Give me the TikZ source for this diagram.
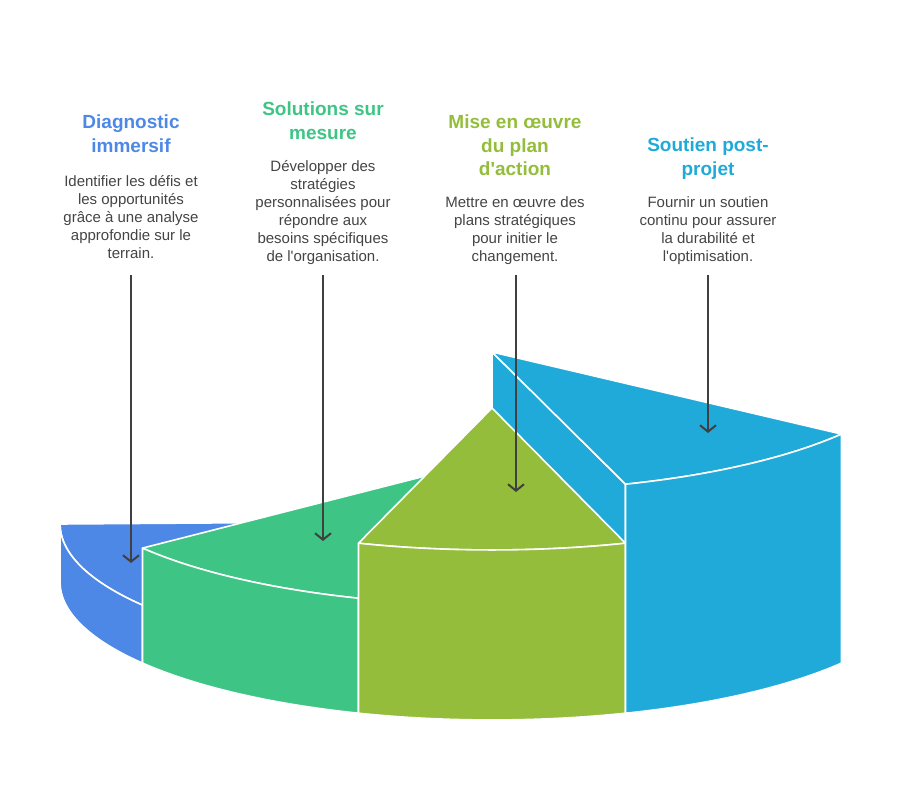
\documentclass[tikz,border=0pt]{standalone}
\usepackage{fontspec}
\setmainfont{Liberation Sans}
\usetikzlibrary{arrows.meta}
\definecolor{cDiag}{HTML}{4E88E6}
\definecolor{cSol}{HTML}{3EC585}
\definecolor{cMise}{HTML}{93BD3A}
\definecolor{cSout}{HTML}{20AAD9}
\definecolor{cText}{HTML}{444444}
\definecolor{cArrow}{HTML}{404040}
\begin{document}
\begin{tikzpicture}[x=1pt,y=-1pt,
  face/.style={draw=white,line width=1.6pt,line join=round},
  ttl/.style={font=\fontsize{19}{23.5}\selectfont\bfseries,align=center,inner sep=0pt,anchor=north},
  bodytext/.style={font=\fontsize{15}{18}\selectfont,text=cText,align=center,inner sep=0pt,anchor=north},
  pointer/.style={draw=cArrow,line width=2pt,-{Straight Barb[length=6.5pt,width=16pt]}},
  ell/.style={x radius=432,y radius=138}]
\useasboundingbox (0,0) rectangle (900,805);

% Diagnostic immersif (lowest sector, 144..180 deg)
\path[face,fill=cDiag] (492,521) -- (60,524) arc[start angle=180,end angle=144,ell] -- cycle;
\path[face,fill=cDiag] (60,524) arc[start angle=180,end angle=144,ell] -- (142.5,663.1) arc[start angle=144,end angle=180,ell] -- cycle;

% Solutions sur mesure (108..144 deg)
\path[face,fill=cSol] (492,459) -- (142.5,548.1) arc[start angle=144,end angle=108,ell] -- cycle;
\path[face,fill=cSol] (142.5,548.1) arc[start angle=144,end angle=108,ell] -- (358.5,713.2) arc[start angle=108,end angle=144,ell] -- cycle;

% Soutien post-projet side face
\path[face,fill=cSout] (492,352) -- (625.5,484.2) -- (625.5,713.2) -- (492,582) -- cycle;

% Mise en oeuvre (72..108 deg)
\path[face,fill=cMise] (492,408) -- (358.5,543.2) arc[start angle=108,end angle=72,ell] -- cycle;
\path[face,fill=cMise] (358.5,543.2) arc[start angle=108,end angle=72,ell] -- (625.5,713.2) arc[start angle=72,end angle=108,ell] -- cycle;

% Soutien post-projet (36..72 deg)
\path[face,fill=cSout] (492,352) -- (625.5,484.2) arc[start angle=72,end angle=36,ell] -- cycle;
\path[face,fill=cSout] (625.5,484.2) arc[start angle=72,end angle=36,ell] -- (841.5,663.1) arc[start angle=36,end angle=72,ell] -- cycle;

% Texts
\node[ttl,text=cDiag] (t1) at (131,115) {Diagnostic\\immersif};
\node[bodytext] (b1) at (131,175) {Identifier les défis et\\les opportunités\\grâce à une analyse\\approfondie sur le\\terrain.};

\node[ttl,text=cSol] (t2) at (323,102) {Solutions sur\\mesure};
\node[bodytext] (b2) at (323,160) {Développer des\\stratégies\\personnalisées pour\\répondre aux\\besoins spécifiques\\de l\textquotesingle organisation.};

\node[ttl,text=cMise] (t3) at (515,115) {Mise en œuvre\\du plan\\d\textquotesingle action};
\node[bodytext] (b3) at (515,196) {Mettre en œuvre des\\plans stratégiques\\pour initier le\\changement.};

\node[ttl,text=cSout] (t4) at (708,138) {Soutien post-\\projet};
\node[bodytext] (b4) at (708,196) {Fournir un soutien\\continu pour assurer\\la durabilité et\\l\textquotesingle optimisation.};

% Pointers
\coordinate (s1) at (131,275); \coordinate (e1) at (131,563);
\coordinate (s2) at (323,275); \coordinate (e2) at (323,541);
\coordinate (s3) at (516,275); \coordinate (e3) at (516,492);
\coordinate (s4) at (708,275); \coordinate (e4) at (708,433);
\draw[pointer] (s1) -- (e1);
\draw[pointer] (s2) -- (e2);
\draw[pointer] (s3) -- (e3);
\draw[pointer] (s4) -- (e4);
\end{tikzpicture}
\end{document}
